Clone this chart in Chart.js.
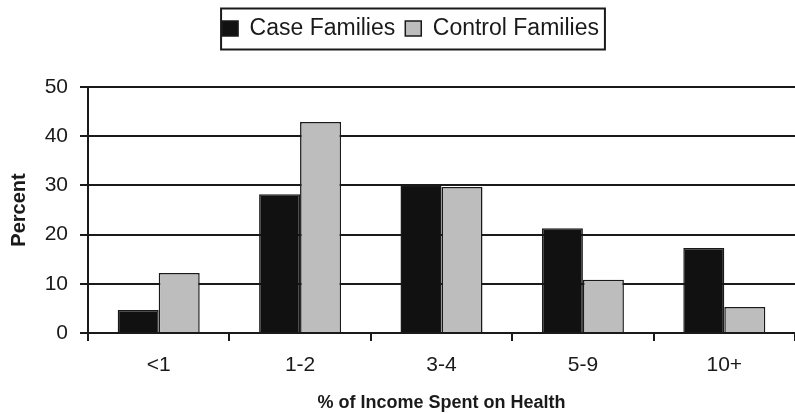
<!DOCTYPE html>
<html>
<head>
<meta charset="utf-8">
<script src="https://cdn.jsdelivr.net/npm/chart.js@4"></script>
<style>
  html, body { margin:0; padding:0; background:#fff; }
  #wrap { width:795px; height:414px; }
</style>
</head>
<body>
<div id="wrap"><canvas id="chart" width="795" height="414"></canvas></div>
<script>
const categories = ['<1', '1-2', '3-4', '5-9', '10+'];
const caseFamilies = [4.7, 28.2, 30.0, 21.3, 17.3];
const controlFamilies = [12.2, 42.9, 29.7, 10.8, 5.3];
const yTicks = [0, 10, 20, 30, 40, 50];

const ink = '#1a1a1a';
const fontFamily = '"Liberation Sans", Arial, sans-serif';

// legend sits in a thin black frame, like the original figure
const legendFrame = {
  id: 'legendFrame',
  beforeInit(chart) {
    const fit = chart.legend.fit;
    chart.legend.fit = function () {
      fit.bind(chart.legend)();
      this.height = 80;
    };
  },
  afterLayout(chart) {
    // original legend is a little right of centre
    chart.legend.left += 13;
    chart.legend.right += 13;
  },
  afterDraw(chart) {
    const boxes = chart.legend.legendHitBoxes;
    if (!boxes || !boxes.length) return;
    const left = Math.min(...boxes.map(b => b.left)) - 1;
    const right = Math.max(...boxes.map(b => b.left + b.width)) + 6;
    const cy = boxes[0].top + boxes[0].height / 2;
    const ctx = chart.ctx;
    ctx.save();
    ctx.strokeStyle = ink;
    ctx.lineWidth = 2;
    ctx.strokeRect(left, cy - 20, right - left, 41);
    ctx.restore();
  }
};

new Chart(document.getElementById('chart'), {
  type: 'bar',
  data: {
    labels: categories,
    datasets: [
      { label: 'Case Families', data: caseFamilies, backgroundColor: '#111', borderColor: ink, borderWidth: 1.5 },
      { label: 'Control Families', data: controlFamilies, backgroundColor: '#bdbdbd', borderColor: ink, borderWidth: 1.5 }
    ]
  },
  options: {
    responsive: false,
    animation: false,
    layout: { padding: { top: 7, left: 0, right: 0, bottom: 0 } },
    datasets: { bar: { categoryPercentage: 0.58, barPercentage: 1 } },
    plugins: {
      tooltip: { enabled: false },
      legend: {
        position: 'top',
        labels: {
          color: ink,
          font: { family: fontFamily, size: 23 },
          boxWidth: 16,
          boxHeight: 15,
          padding: 10,
          useBorderRadius: false
        }
      }
    },
    scales: {
      x: {
        grid: { offset: true, drawOnChartArea: false, drawTicks: true, tickLength: 8, color: ink, lineWidth: 2 },
        border: { display: true, color: ink, width: 2 },
        ticks: { color: ink, font: { family: fontFamily, size: 21 }, padding: 12, maxRotation: 0 },
        title: {
          display: true,
          text: '% of Income Spent on Health',
          color: ink,
          font: { family: fontFamily, size: 18, weight: 'bold' },
          padding: { top: 0, bottom: 0 }
        },
        afterFit: s => { s.height = 81; }
      },
      y: {
        min: 0,
        max: 50,
        afterBuildTicks: s => { s.ticks = yTicks.map(v => ({ value: v })); },
        grid: { color: ink, lineWidth: 2, tickLength: 8 },
        border: { display: true, color: ink, width: 2 },
        ticks: { color: ink, font: { family: fontFamily, size: 21 }, padding: 12 },
        title: {
          display: true,
          text: 'Percent',
          color: ink,
          font: { family: fontFamily, size: 20, weight: 'bold' },
          padding: { top: 7, bottom: 0 }
        },
        afterFit: s => { s.width = 88; }
      }
    }
  },
  plugins: [legendFrame]
});
</script>
</body>
</html>
